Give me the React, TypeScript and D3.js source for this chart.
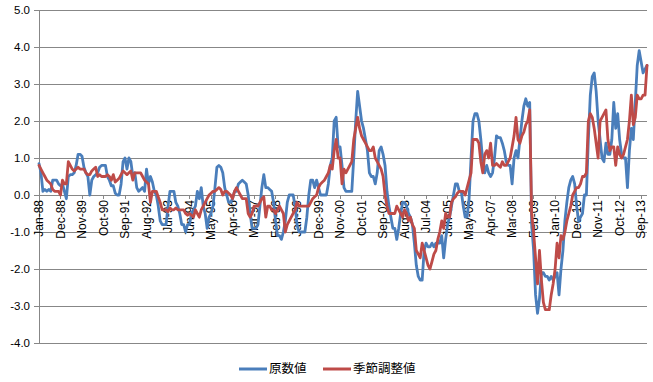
import React from "react";
import * as d3 from "d3";

const startYear = 1988;
const tickLabels = ["Jan-88","Dec-88","Nov-89","Oct-90","Sep-91","Aug-92","Jul-93","Jun-94","May-95","Apr-96","Mar-97","Feb-98","Jan-99","Dec-99","Nov-00","Oct-01","Sep-02","Aug-03","Jul-04","Jun-05","May-06","Apr-07","Mar-08","Feb-09","Jan-10","Dec-10","Nov-11","Oct-12","Sep-13"];
const yTicks = [5, 4, 3, 2, 1, 0, -1, -2, -3, -4];
const seriesNames = ["原数値", "季節調整値"];

// 原数値 (monthly, Jan-88 .. Dec-13)
const original = [
  0.85, 0.6, 0.1, 0.15, 0.1, 0.15, 0.1, 0.4, 0.4, 0.4, 0.3, 0.25,
  0.3, 0.1, -0.1, 0.5, 0.55, 0.55, 0.6, 0.8, 1.1, 1.1, 1.05, 0.75,
  0.6, 0.5, 0.0, 0.4, 0.5, 0.55, 0.6, 0.75, 0.8, 0.8, 0.8, 0.5,
  0.4, 0.25, 0.25, 0.05, 0.0, 0.0, 0.3, 0.9, 1.0, 0.7, 1.0, 0.9,
  0.5, 0.6, 0.2, 0.1, 0.15, 0.2, 0.1, 0.7, 0.3, 0.5, 0.35, 0.1,
  0.0, -0.3, -0.7, -0.8, -0.8, -0.8, -0.3, 0.1, 0.1, 0.1, -0.2, -0.3,
  -0.5, -0.8, -0.8, -1.0, -0.8, -0.8, -0.5, -0.4, -0.3, 0.1, -0.1, 0.2,
  -0.3, -0.5, -0.9, -0.6, -0.5, -0.3, 0.2, 0.75, 0.8, 0.75, 0.6, 0.2,
  0.0, -0.2, -0.2, -0.1, 0.1, 0.1, 0.3, 0.35, 0.4, 0.35, 0.3, 0.0,
  -0.5, -0.9, -0.9, -0.9, -0.8, -0.3, 0.2, 0.55, 0.2, 0.2, 0.15, 0.1,
  -0.2, -0.7, -1.1, -1.1, -1.2, -1.0, -0.7, -0.2, 0.0, 0.0, 0.0, -0.3,
  -0.8, -1.0, -1.0, -1.0, -1.0, -0.6, 0.0, 0.4, 0.4, 0.2, 0.4, 0.2,
  0.0, 0.0, 0.0, 0.0, 0.3, 0.8, 1.0, 2.0, 2.1, 1.3, 1.3, 0.8,
  0.2, 0.1, 0.1, 0.1, 0.1, 1.0, 2.0, 2.8, 2.4, 2.0, 1.8, 1.5,
  1.2, 0.6, 0.5, 0.5, 0.3, 0.6, 1.2, 1.3, 1.1, 0.8, 0.1, -0.3,
  -0.6, -0.9, -0.9, -1.2, -0.9, -0.5, -0.2, -0.2, -0.3, -0.5, -0.6, -0.8,
  -1.3, -1.9, -2.2, -2.3, -2.3, -1.5, -1.3, -1.4, -1.4, -1.3, -1.4, -1.3,
  -1.3, -1.3, -1.1, -1.7, -1.2, -0.8, -0.6, -0.3, 0.0, 0.3, 0.3, 0.1,
  0.1, -0.3, -0.6, -0.6, -0.1, 1.0, 2.0, 2.2, 2.2, 2.0, 1.5, 0.9,
  0.6, 0.8, 0.6, 0.5, 0.6, 1.0, 1.6, 1.55, 1.55, 1.4, 1.2, 0.9,
  0.8, 0.8, 0.3, 1.0, 1.2, 1.0, 1.5, 2.0, 2.4, 2.6, 2.4, 2.5,
  -0.8, -1.5, -2.7, -3.2, -2.8, -2.1, -2.1, -2.2, -2.2, -2.3, -2.2, -2.3,
  -2.2, -2.1, -2.7, -2.0, -1.5, -0.7, -0.2, 0.2, 0.4, 0.5, 0.3, -0.3,
  -0.7, -0.6, -0.5, 0.0, 0.0, 1.5, 2.7, 3.2, 3.3, 2.8, 2.0, 1.5,
  1.0, 0.9, 1.4, 1.1, 1.1, 1.5, 2.5, 1.8, 2.2, 1.5, 1.1, 1.0,
  1.0, 0.2, 1.2, 1.8, 1.5, 2.5, 3.5, 3.9, 3.6, 3.3, 3.4, 3.5,
];

// 季節調整値 (monthly, Jan-88 .. Dec-13)
const adjusted = [
  0.8, 0.7, 0.6, 0.5, 0.4, 0.35, 0.3, 0.15, 0.1, 0.1, 0.1, 0.0,
  0.4, 0.3, 0.3, 0.9, 0.8, 0.7, 0.65, 0.7, 0.75, 0.7, 0.7, 0.7,
  0.6, 0.55, 0.55, 0.65, 0.7, 0.75, 0.5, 0.55, 0.5, 0.5, 0.5, 0.55,
  0.5, 0.4, 0.55, 0.35, 0.4, 0.45, 0.55, 0.65, 0.6, 0.55, 0.6, 0.65,
  0.4, 0.6, 0.6, 0.6, 0.6, 0.5, 0.4, 0.35, 0.3, -0.2, 0.1, 0.1,
  0.1, -0.05, -0.2, -0.4, -0.4, -0.4, -0.45, -0.35, -0.4, -0.4, -0.35, -0.4,
  -0.4, -0.4, -0.4, -0.5, -0.55, -0.5, -0.55, -0.6, -0.4, -0.5, -0.6, -0.4,
  -0.3, -0.2, -0.1, 0.0, 0.05, 0.1, 0.1, 0.15, 0.2, 0.15, 0.0, 0.1,
  0.1, 0.05, 0.0, -0.1, 0.1, 0.2, 0.1, 0.0, -0.1, -0.1, -0.1, -0.5,
  -0.6, -0.5, -0.3, -0.3, -0.3, -0.2, -0.1, -0.05, -0.6, -0.3, -0.3, -0.4,
  -0.4, -0.5, -0.4, -0.3, -0.4, -0.5, -1.0, -0.8, -0.7, -0.6, -0.5, -0.4,
  -0.2, -0.3, -0.3, -0.3, -0.3, -0.3, -0.3, -0.2, -0.1, -0.05, 0.0, 0.2,
  0.3, 0.35, 0.4, 0.5, 0.6, 0.8, 0.7, 1.2, 1.5, 1.0, 1.0, 0.3,
  0.7, 0.6, 0.7, 0.8, 0.9, 1.5, 1.8, 2.1, 1.8, 1.6, 1.5, 1.4,
  1.3, 1.2, 1.2, 1.3, 1.0, 0.9, 0.8, 0.7, 0.5, 0.0, -0.3, -0.5,
  -0.5, -0.5, -0.5, -0.3, -0.4, -0.5, -0.6, -0.4, -0.5, -0.7, -0.6, -0.8,
  -0.9, -1.5, -1.6, -1.7, -1.3, -1.5, -1.7, -1.9, -2.0, -1.8, -1.6, -1.5,
  -1.2, -1.0, -0.7, -0.9, -0.5, -0.6, -0.6, -0.2, -0.1, -0.05, 0.05, 0.1,
  0.1, 0.1, 0.0, 0.2, 0.4, 0.6, 1.5, 1.5, 1.5, 1.4, 0.9, 0.6,
  1.1, 1.2, 1.0, 1.4, 0.8, 0.8, 0.85, 0.8, 0.75, 0.9, 0.8, 0.8,
  0.9, 1.0, 1.3, 1.6, 2.1, 1.5, 1.4, 1.6, 1.7, 1.9, 2.0, 2.3,
  -0.5, -1.0, -1.7, -2.4, -1.5, -2.3, -2.9, -3.1, -3.1, -3.1, -2.7, -2.4,
  -2.0, -1.3, -1.7, -1.1, -1.2, -1.0, -0.7, -0.5, -0.3, 0.0, 0.1, 0.2,
  0.2, 0.3, 0.5, 0.5, 0.6, 2.0, 2.2, 2.1, 1.8, 1.4, 1.0, 2.0,
  2.1, 2.2, 2.3, 1.5, 1.2, 1.3, 1.3, 0.8, 1.3, 1.1, 1.0, 1.1,
  1.3, 1.5, 2.0, 2.7, 1.9, 2.1, 2.7, 2.6, 2.6, 2.7, 2.7, 3.5,
];

const W = 653, H = 382;
const left = 39, right = 647, top = 10, bottom = 343;
const colors = ["#4A7EBB", "#BE4B48"];
const gridColor = "#878787";
const font = "'Liberation Sans', Arial, sans-serif";

export default function App() {
  const n = original.length;
  const x = d3.scaleLinear().domain([0, n - 1]).range([left, right]);
  const y = d3.scaleLinear().domain([-4, 5]).range([bottom, top]);
  const line = d3.line<number>().x((_, i) => x(i)).y((d) => y(d));
  const fmtMonth = d3.timeFormat("%b-%y");
  const tickIdx = tickLabels.map((lab) => {
    for (let i = 0; i < n; i++) {
      if (fmtMonth(new Date(startYear, i, 1)) === lab) return i;
    }
    return 0;
  });
  const series = [original, adjusted];
  return (
    <svg width={W} height={H} style={{ position: "absolute", left: 0, top: 0, background: "#fff" }}>
      {yTicks.map((t) => (
        <g key={t}>
          <line x1={left - 5} x2={right} y1={y(t)} y2={y(t)} stroke={gridColor} strokeWidth={1} shapeRendering="crispEdges" />
          <text x={30} y={y(t)} dy="0.35em" textAnchor="end" fontFamily={font} fontSize={11.5} fill="#000">
            {t.toFixed(1)}
          </text>
        </g>
      ))}
      <line x1={left} x2={left} y1={top} y2={bottom} stroke={gridColor} strokeWidth={1} shapeRendering="crispEdges" />
      {tickIdx.map((ti, k) => (
        <g key={k}>
          <line x1={x(ti)} x2={x(ti)} y1={y(0)} y2={y(0) + 4} stroke={gridColor} strokeWidth={1} shapeRendering="crispEdges" />
          <text
            transform={`translate(${x(ti)},${y(0) + 5}) rotate(-90)`}
            dy="0.35em"
            textAnchor="end"
            fontFamily={font}
            fontSize={12}
            fill="#000"
          >
            {tickLabels[k]}
          </text>
        </g>
      ))}
      {series.map((s, k) => (
        <path key={k} d={line(s) || ""} fill="none" stroke={colors[k]} strokeWidth={2.8} strokeLinejoin="round" strokeLinecap="round" />
      ))}
      {seriesNames.map((name, k) => {
        const lx = k === 0 ? 239 : 323;
        return (
          <g key={name}>
            <line x1={lx} x2={lx + 28} y1={369} y2={369} stroke={colors[k]} strokeWidth={3} />
            <text x={lx + 30} y={369} dy="0.35em" fontFamily="'Noto Sans CJK JP', sans-serif" fontSize={12.5} fill="#000">
              {name}
            </text>
          </g>
        );
      })}
    </svg>
  );
}
